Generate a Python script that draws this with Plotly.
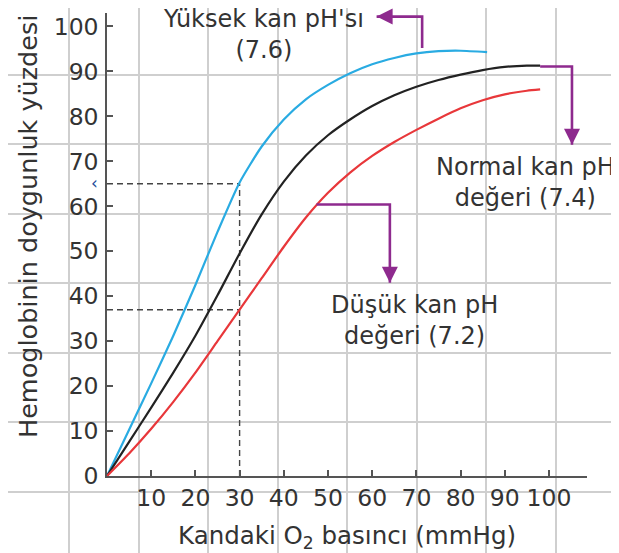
import plotly.graph_objects as go

# ---------------- data ----------------
pressure_high = [0, 5, 10, 15, 20, 25, 30, 35, 40, 45, 50, 55, 60, 65, 70, 75, 80, 86]
saturation_high = [0, 10.3, 20.6, 31.2, 42.5, 54.3, 65.3, 73.3, 79.3, 83.8, 87, 89.6, 91.6, 93, 94, 94.5, 94.6, 94.3]

pressure_normal = [0, 5, 10, 15, 20, 25, 30, 35, 40, 45, 50, 55, 60, 65, 70, 75, 80, 85, 90, 95, 98]
saturation_normal = [0, 7.6, 15.2, 23, 31.2, 40.2, 49.5, 58.2, 65.5, 71.3, 75.8, 79.3, 82.3, 84.7, 86.6, 88.1, 89.3, 90.3, 91, 91.3, 91.3]

pressure_low = [0, 5, 10, 15, 20, 25, 30, 35, 40, 45, 50, 55, 60, 65, 70, 75, 80, 85, 90, 95, 98]
saturation_low = [0, 5, 10.5, 16.5, 23, 30, 37, 44, 51, 57.5, 63, 67.5, 71.2, 74.3, 77, 79.5, 81.8, 83.6, 84.9, 85.7, 86]

x_ticks = [10, 20, 30, 40, 50, 60, 70, 80, 90, 100]
y_ticks = [0, 10, 20, 30, 40, 50, 60, 70, 80, 90, 100]

ref_pressure = 30
ref_sat_high = 65
ref_sat_low = 37

x_title = "Kandaki O<sub>2</sub> basıncı (mmHg)"
y_title = "Hemoglobinin doygunluk yüzdesi"

label_high = "Yüksek kan pH'sı<br>(7.6)"
label_normal = "Normal kan pH<br>değeri (7.4)"
label_low = "Düşük kan pH<br>değeri (7.2)"

# callouts (data units): label centre, elbow path ending at the arrow tip, arrow direction
callouts = [
    dict(text=label_high, lx=35.5, ly=98.2, px=[71.3, 71.3, 61.0], py=[95.2, 102.2, 102.2], head="arrow-left"),
    dict(text=label_normal, lx=94.6, ly=65.3, px=[98.0, 105.2, 105.2], py=[91.1, 91.1, 73.7], head="arrow-down"),
    dict(text=label_low, lx=69.5, ly=34.5, px=[47.4, 64.0, 64.0], py=[60.4, 60.4, 43.0], head="arrow-down"),
]

# ---------------- styles ----------------
FONT = "DejaVu Sans"
TEXT = "#333333"
AXIS = "#555555"
PURPLE = "#8e2a8e"
W, H = 611, 545            # page has an 8px body margin
L, R, B, T = 99, 579, 468, 5  # plot-area edges in figure pixels

fig = go.Figure()

# paper-like background grid (own axes spanning the whole figure)
fig.add_trace(go.Scatter(x=[None], y=[None], xaxis="x", yaxis="y", showlegend=False, hoverinfo="skip"))

line_kw = dict(xaxis="x2", yaxis="y2", showlegend=False, hoverinfo="skip")
dash_line = dict(color="#444444", width=1.4, dash="6px,4px")

# dashed reading lines
fig.add_trace(go.Scatter(x=[0, ref_pressure], y=[ref_sat_high, ref_sat_high], mode="lines", line=dash_line, **line_kw))
fig.add_trace(go.Scatter(x=[0, ref_pressure], y=[ref_sat_low, ref_sat_low], mode="lines", line=dash_line, **line_kw))
fig.add_trace(go.Scatter(x=[ref_pressure, ref_pressure], y=[0, ref_sat_high], mode="lines", line=dash_line, **line_kw))

# curves
for xs, ys, col in [(pressure_high, saturation_high, "#29abe2"),
                    (pressure_normal, saturation_normal, "#222222"),
                    (pressure_low, saturation_low, "#e8373a")]:
    fig.add_trace(go.Scatter(x=xs, y=ys, mode="lines",
                             line=dict(color=col, width=2.2, shape="spline", smoothing=0.6), **line_kw))

annotations = []
for c in callouts:
    fig.add_trace(go.Scatter(x=c["px"], y=c["py"], mode="lines",
                             line=dict(color=PURPLE, width=2.6), **line_kw))
    fig.add_trace(go.Scatter(x=c["px"][-1:], y=c["py"][-1:], mode="markers", cliponaxis=False,
                             marker=dict(symbol=c["head"], size=16, color=PURPLE, line=dict(width=0)),
                             **line_kw))
    annotations.append(dict(x=c["lx"], y=c["ly"], xref="x2", yref="y2", text=c["text"],
                            showarrow=False, align="center", xanchor="center", yanchor="middle",
                            font=dict(family=FONT, size=24, color=TEXT)))

# axis titles
annotations.append(dict(x=(L + R) / 2 / W, y=1 - 529 / H, xref="paper", yref="paper",
                        text=x_title, showarrow=False, xanchor="center", yanchor="middle",
                        font=dict(family=FONT, size=24.5, color=TEXT)))
annotations.append(dict(x=20 / W, y=1 - 219 / H, xref="paper", yref="paper",
                        text=y_title, showarrow=False, textangle=-90,
                        xanchor="center", yanchor="middle",
                        font=dict(family=FONT, size=25.5, color=TEXT)))
# small blue mark left of the axis
annotations.append(dict(x=86 / W, y=1 - 175 / H, xref="paper", yref="paper",
                        text="‹", showarrow=False, xanchor="center", yanchor="middle",
                        font=dict(family=FONT, size=17, color="#1f4e9a")))

grid_kw = dict(showgrid=True, gridcolor="#cfcfcf", gridwidth=2, showticklabels=False,
               ticks="", zeroline=False, showline=False, fixedrange=True, automargin=False)
axis_kw = dict(showline=True, linecolor=AXIS, linewidth=1.5, ticks="inside", ticklen=6,
               tickwidth=1.5, tickcolor=AXIS, showgrid=False, zeroline=False,
               tickfont=dict(family=FONT, size=23.5, color=TEXT), automargin=False, fixedrange=True)

fig.update_layout(
    width=W, height=H, template="none",
    margin=dict(l=0, r=0, t=0, b=0, pad=0),
    paper_bgcolor="white", plot_bgcolor="rgba(0,0,0,0)",
    showlegend=False,
    xaxis=dict(domain=[0, 1], range=[0, W], tick0=61, dtick=69.5, anchor="y", **grid_kw),
    yaxis=dict(domain=[0, 1], range=[H, 0], tick0=-3, dtick=69.5, anchor="x", **grid_kw),
    xaxis2=dict(domain=[L / W, R / W], range=[0, 108.6], anchor="y2",
                tickmode="array", tickvals=x_ticks, ticktext=[str(v) for v in x_ticks], **axis_kw),
    yaxis2=dict(domain=[1 - B / H, 1 - T / H], range=[0, 103], anchor="x2", ticklabelstandoff=2,
                tickmode="array", tickvals=y_ticks, ticktext=[str(v) for v in y_ticks], **axis_kw),
    annotations=annotations,
)

fig.write_html("out.html")
